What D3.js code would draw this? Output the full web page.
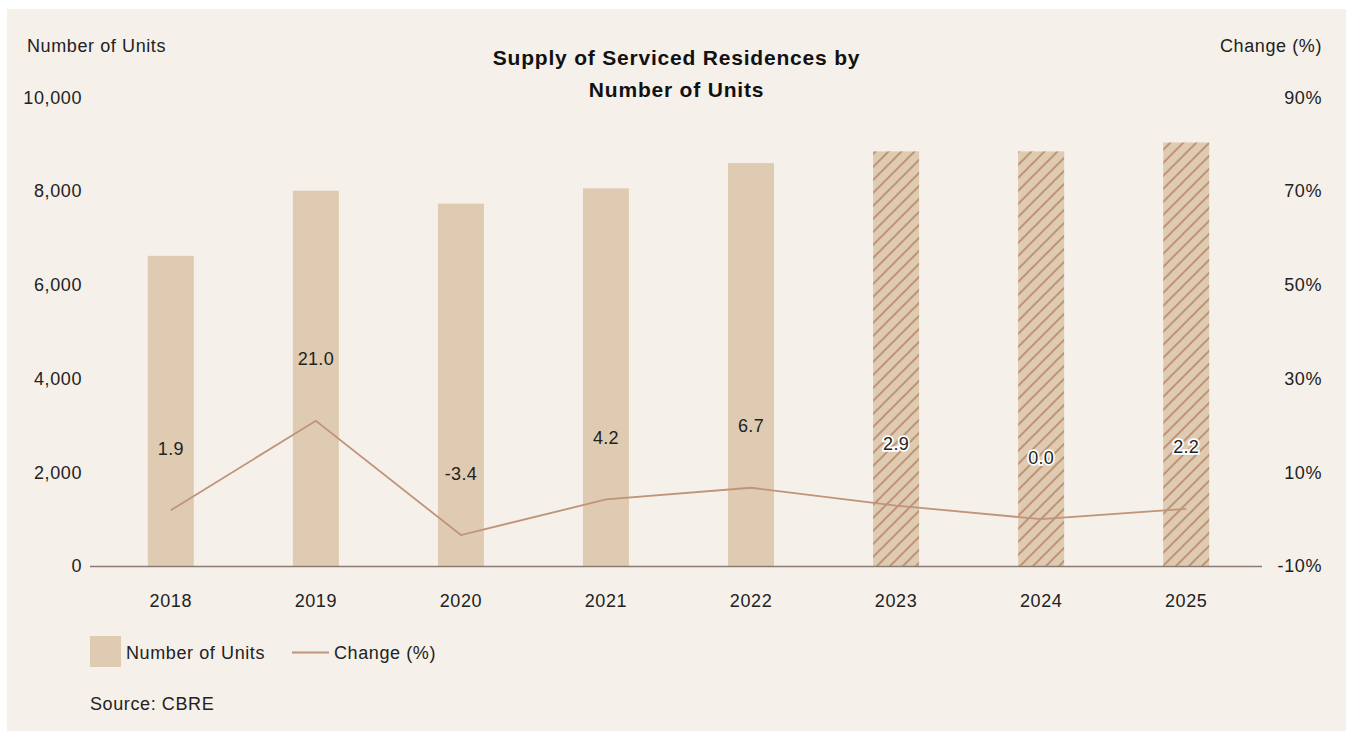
<!DOCTYPE html>
<html>
<head>
<meta charset="utf-8">
<script src="https://cdn.jsdelivr.net/npm/d3@7/dist/d3.min.js"></script>
<style>
  html, body { margin: 0; padding: 0; background: #ffffff; }
  svg text { font-family: "Liberation Sans", Arial, Helvetica, sans-serif; }
</style>
</head>
<body>
<svg id="chart" width="1353" height="731"></svg>
<script>
const categories = ["2018", "2019", "2020", "2021", "2022", "2023", "2024", "2025"];
const units = [6620, 8010, 7735, 8060, 8600, 8850, 8850, 9040];
const changePct = [1.9, 21.0, -3.4, 4.2, 6.7, 2.9, 0.0, 2.2];
const forecast = [false, false, false, false, false, true, true, true];
const leftTicks = [0, 2000, 4000, 6000, 8000, 10000];
const rightTicks = [-10, 10, 30, 50, 70, 90];

const W = 1353, H = 731;
const bg = "#f5f0ea", barFill = "#dfcbb1", lineColor = "#c09478", textColor = "#222222";
const FS = 18, LS = 0.6;

const svg = d3.select("#chart");
svg.append("rect").attr("x", 7).attr("y", 9).attr("width", 1339).attr("height", 722).attr("fill", bg);

const defs = svg.append("defs");
const pat = defs.append("pattern").attr("id", "hatch").attr("patternUnits", "userSpaceOnUse")
  .attr("width", 13).attr("height", 13);
pat.append("rect").attr("width", 13).attr("height", 13).attr("fill", barFill);
pat.append("path").attr("d", "M-2,15 L15,-2 M-4,4 L4,-4 M9,17 L17,9")
  .attr("stroke", lineColor).attr("stroke-width", 2);

const y0 = 566, yTop = 97.5;
const x = d3.scaleBand().domain(categories).range([98.5, 1258.5]).paddingInner(0.683).paddingOuter(0.34);
const yL = d3.scaleLinear().domain([0, 10000]).range([y0, yTop]);
const yR = d3.scaleLinear().domain([-10, 90]).range([y0, yTop]);

const data = categories.map((c, i) => ({ c, u: units[i], p: changePct[i], f: forecast[i] }));

// bars
svg.append("g").selectAll("rect").data(data).join("rect")
  .attr("x", d => x(d.c)).attr("width", x.bandwidth())
  .attr("y", d => yL(d.u)).attr("height", d => y0 - yL(d.u))
  .attr("fill", d => d.f ? "url(#hatch)" : barFill);

// baseline
svg.append("line").attr("x1", 90).attr("x2", 1262).attr("y1", y0 + 0.5).attr("y2", y0 + 0.5)
  .attr("stroke", "#8c7b72").attr("stroke-width", 1.5);

// line
const line = d3.line().x(d => x(d.c) + x.bandwidth() / 2).y(d => yR(d.p));
svg.append("path").datum(data).attr("d", line).attr("fill", "none")
  .attr("stroke", lineColor).attr("stroke-width", 1.8);

// value labels
svg.append("g").selectAll("text").data(data).join("text")
  .attr("x", d => x(d.c) + x.bandwidth() / 2).attr("y", d => yR(d.p) - 62)
  .attr("dy", "0.36em").attr("text-anchor", "middle")
  .attr("font-size", FS).attr("letter-spacing", 0.3).attr("fill", textColor)
  .attr("stroke", d => d.f ? "#ffffff" : "none").attr("stroke-width", 3.5)
  .attr("paint-order", "stroke")
  .text(d => d.p.toFixed(1));

// left axis
const axL = d3.axisLeft(yL).tickValues(leftTicks).tickSize(0).tickPadding(0).tickFormat(d3.format(","));
const gL = svg.append("g").attr("transform", "translate(82,0)").call(axL);
gL.select(".domain").remove();
gL.selectAll("text").attr("font-size", FS).attr("letter-spacing", LS).attr("fill", textColor).attr("font-family", null);

// right axis
const axR = d3.axisRight(yR).tickValues(rightTicks).tickSize(0).tickPadding(0).tickFormat(d => d + "%");
const gR = svg.append("g").attr("transform", "translate(1322,0)").call(axR);
gR.select(".domain").remove();
gR.selectAll("text").attr("text-anchor", "end").attr("font-size", FS).attr("letter-spacing", LS).attr("fill", textColor).attr("font-family", null);

// bottom axis
const axB = d3.axisBottom(x).tickSize(0).tickPadding(0);
const gB = svg.append("g").attr("transform", `translate(0,${y0 + 28})`).call(axB);
gB.select(".domain").remove();
gB.selectAll("text").attr("font-size", FS).attr("letter-spacing", LS).attr("fill", textColor).attr("font-family", null);

// axis titles
svg.append("text").attr("x", 27).attr("y", 52).attr("font-size", FS).attr("letter-spacing", LS)
  .attr("fill", textColor).text("Number of Units");
svg.append("text").attr("x", 1322).attr("y", 52).attr("text-anchor", "end").attr("font-size", FS)
  .attr("letter-spacing", LS).attr("fill", textColor).text("Change (%)");

// title
const title = svg.append("text").attr("text-anchor", "middle").attr("font-size", 21)
  .attr("font-weight", "bold").attr("letter-spacing", 0.8).attr("fill", "#111");
title.append("tspan").attr("x", 676.5).attr("y", 64.5).text("Supply of Serviced Residences by");
title.append("tspan").attr("x", 676.5).attr("y", 96.5).text("Number of Units");

// legend
svg.append("rect").attr("x", 90).attr("y", 636).attr("width", 31).attr("height", 31).attr("fill", barFill);
svg.append("text").attr("x", 126).attr("y", 653).attr("dy", "0.36em").attr("font-size", FS)
  .attr("letter-spacing", LS).attr("fill", textColor).text("Number of Units");
svg.append("line").attr("x1", 292).attr("x2", 329).attr("y1", 652.5).attr("y2", 652.5)
  .attr("stroke", lineColor).attr("stroke-width", 2);
svg.append("text").attr("x", 334).attr("y", 653).attr("dy", "0.36em").attr("font-size", FS)
  .attr("letter-spacing", LS).attr("fill", textColor).text("Change (%)");

// source
svg.append("text").attr("x", 90).attr("y", 704).attr("dy", "0.36em").attr("font-size", FS)
  .attr("letter-spacing", LS).attr("fill", textColor).text("Source: CBRE");
</script>
</body>
</html>
